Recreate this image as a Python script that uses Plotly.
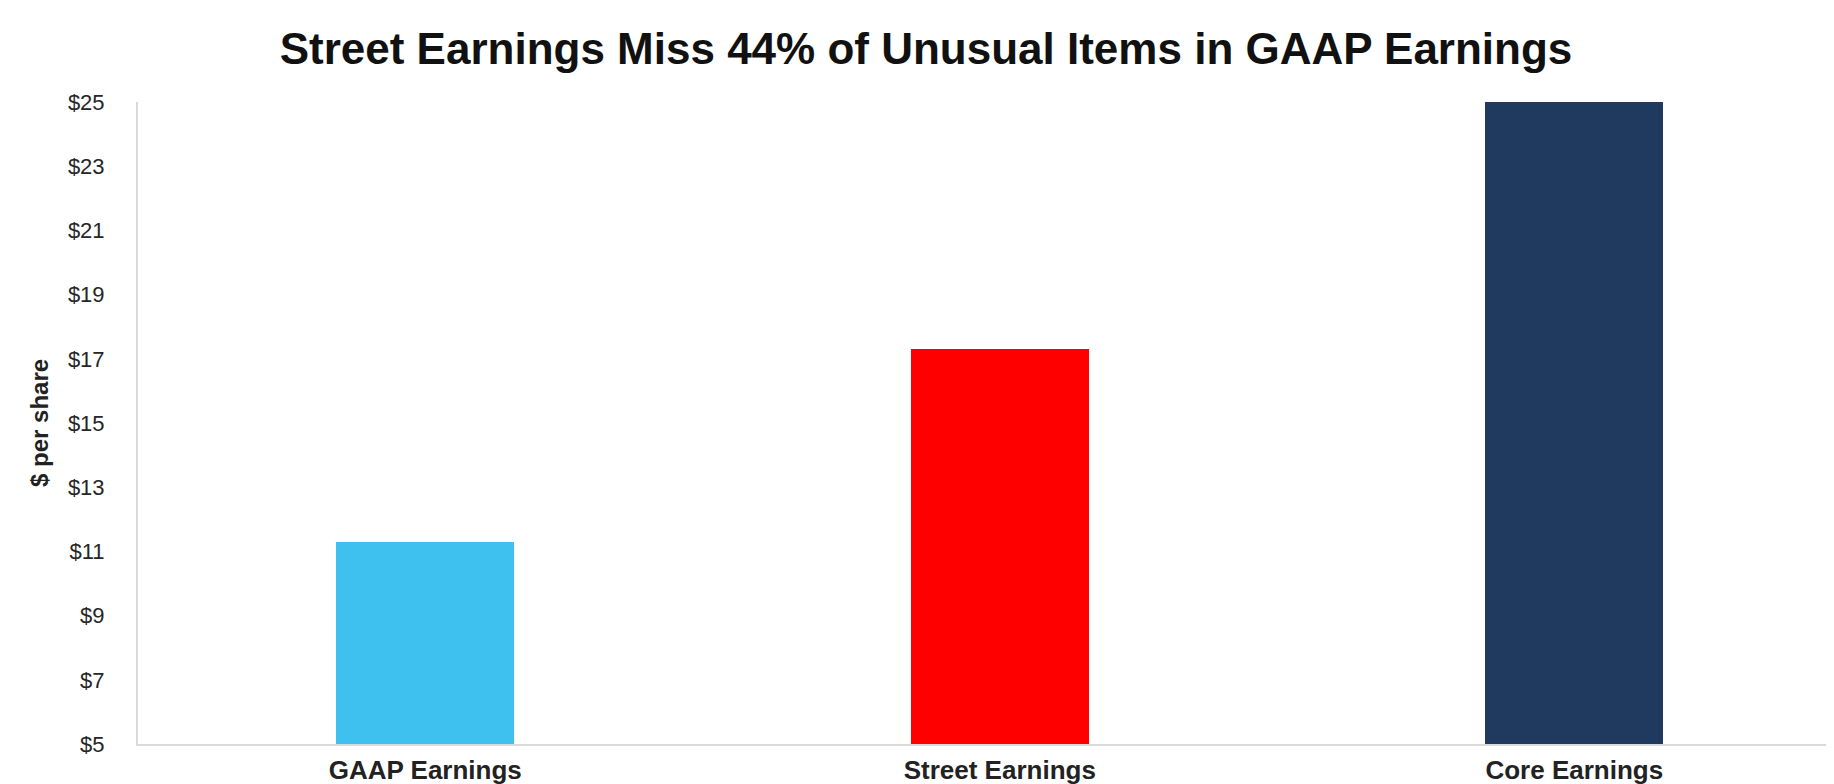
import plotly.graph_objects as go

categories = ["GAAP Earnings", "Street Earnings", "Core Earnings"]
values = [11.3, 17.3, 25.0]
colors = ["#3FC1F0", "#FF0000", "#1F3A5E"]
y_ticks = [5, 7, 9, 11, 13, 15, 17, 19, 21, 23, 25]
y_tick_labels = ["$" + str(v) for v in y_ticks]

W, H = 1834, 784
ml, mr, mt, mb = 130, 0, 94, 48

fig = go.Figure(go.Bar(
    x=categories, y=values, marker=dict(color=colors, line=dict(width=0)),
    width=0.31,
))

fig.update_layout(
    width=W, height=H,
    margin=dict(l=ml, r=mr, t=mt, b=mb),
    paper_bgcolor="white", plot_bgcolor="white",
    font=dict(family="Liberation Sans, Arial, sans-serif", color="#222222"),
    title=dict(text="<b>Street Earnings Miss 44% of Unusual Items in GAAP Earnings</b>",
               x=918 / W, xref="container", xanchor="center",
               y=1 - 41 / H, yref="container", yanchor="middle",
               font=dict(size=44, color="#111111")),
    showlegend=False,
    bargap=0,
)
fig.update_xaxes(
    range=[-0.5, 2.466], showgrid=False, showline=True, linecolor="#d9d9d9", linewidth=2,
    ticks="", tickfont=dict(size=26, color="#222222"), ticklabelstandoff=2,
    tickprefix="<b>", ticksuffix="</b>",
)
fig.update_yaxes(
    range=[5, 25], tickvals=y_ticks, ticktext=y_tick_labels,
    showgrid=False, showline=True, linecolor="#d9d9d9", linewidth=2,
    ticks="", ticklabelstandoff=27, tickfont=dict(size=22, color="#262626"),
    zeroline=False,
)
fig.add_annotation(
    text="<b>$ per share</b>", textangle=-90, showarrow=False,
    xref="paper", yref="paper", x=(31 - ml) / (W - ml - mr), y=0.5,
    xanchor="center", yanchor="middle", font=dict(size=24, color="#222222"),
)

fig.write_html("out.html")
